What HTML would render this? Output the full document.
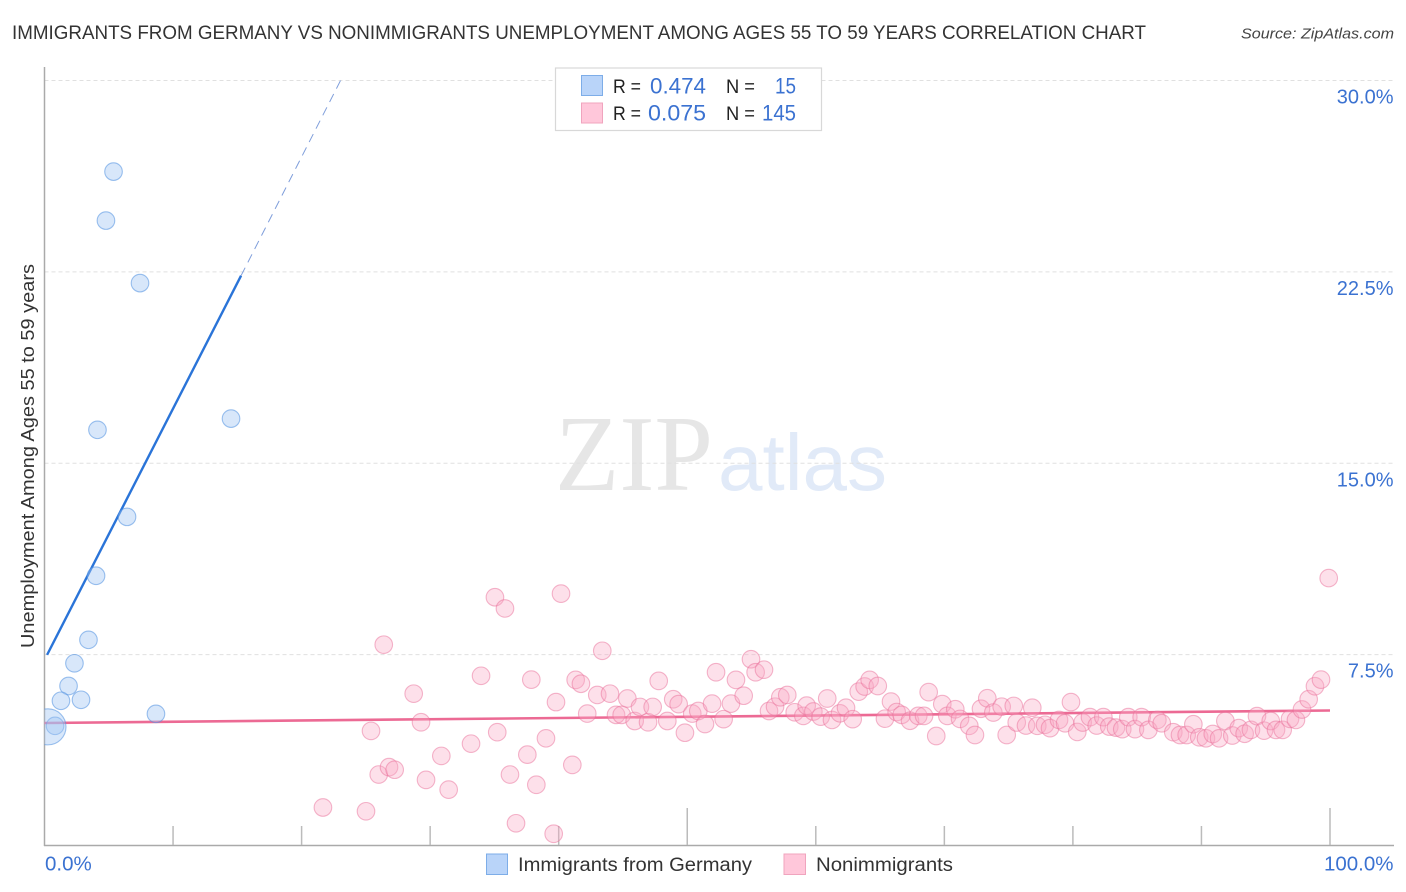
<!DOCTYPE html>
<html lang="en">
<head>
<meta charset="utf-8">
<title>Immigrants from Germany vs Nonimmigrants Unemployment Correlation Chart</title>
<style>
html,body{margin:0;padding:0;background:#fff;}
svg{display:block;font-family:"Liberation Sans",sans-serif;}
</style>
</head>
<body>
<svg id="chart" width="1406" height="892" viewBox="0 0 1406 892" xmlns="http://www.w3.org/2000/svg">
  <defs>
    <clipPath id="plot-clip"><rect x="44.5" y="60" width="1350" height="786"/></clipPath>
  </defs>
  <rect x="0" y="0" width="1406" height="892" fill="#ffffff"/>
  <text x="12" y="39" font-size="19" fill="#333333" textLength="1134" lengthAdjust="spacingAndGlyphs">IMMIGRANTS FROM GERMANY VS NONIMMIGRANTS UNEMPLOYMENT AMONG AGES 55 TO 59 YEARS CORRELATION CHART</text>
  <text x="1241" y="38.5" font-size="15" font-style="italic" fill="#444444" textLength="153" lengthAdjust="spacingAndGlyphs">Source: ZipAtlas.com</text>

  <g>
    <text x="555" y="490" font-family="'Liberation Serif',serif" font-size="108" fill="#e6e6e6" textLength="158" lengthAdjust="spacingAndGlyphs">ZIP</text>
    <text x="718" y="490" font-size="80" fill="#e1eaf8" textLength="169" lengthAdjust="spacingAndGlyphs">atlas</text>
  </g>

  <g id="grid"></g>
  <g id="axes">
    <line x1="44.5" y1="67" x2="44.5" y2="846" stroke="#aaaaaa" stroke-width="1.5"/>
    <line x1="44" y1="845.5" x2="1394" y2="845.5" stroke="#aaaaaa" stroke-width="1.5"/>
  </g>
  <g id="xticks"></g>
  <g id="ylabels"></g>
  <g id="xlabels"></g>

  <text transform="translate(34 648) rotate(-90)" x="0" y="0" font-size="18" fill="#333333" textLength="384" lengthAdjust="spacingAndGlyphs">Unemployment Among Ages 55 to 59 years</text>

  <g id="trends"></g>
  <g id="points-nonimmigrants"></g>
  <g id="points-germany" clip-path="url(#plot-clip)"></g>

  <g>
    <rect x="555.5" y="68" width="266" height="62.5" fill="#ffffff" stroke="#d8d8d8" stroke-width="1.2"/>
    <rect x="581.5" y="75.5" width="21" height="20" fill="#b9d4f9" stroke="#7dade8" stroke-width="1"/>
    <rect x="581.5" y="103" width="21" height="20" fill="#ffc7da" stroke="#f0a4be" stroke-width="1"/>
    <text x="613" y="93" font-size="19" fill="#222222" textLength="28" lengthAdjust="spacingAndGlyphs">R =</text>
    <text x="650" y="93.5" font-size="22" fill="#3b72d1" textLength="56" lengthAdjust="spacingAndGlyphs">0.474</text>
    <text x="726" y="93" font-size="19" fill="#222222" textLength="29" lengthAdjust="spacingAndGlyphs">N =</text>
    <text x="775" y="93.5" font-size="22" fill="#3b72d1" textLength="21" lengthAdjust="spacingAndGlyphs">15</text>
    <text x="613" y="120" font-size="19" fill="#222222" textLength="28" lengthAdjust="spacingAndGlyphs">R =</text>
    <text x="648" y="120.5" font-size="22" fill="#3b72d1" textLength="58" lengthAdjust="spacingAndGlyphs">0.075</text>
    <text x="726" y="120" font-size="19" fill="#222222" textLength="29" lengthAdjust="spacingAndGlyphs">N =</text>
    <text x="762" y="120.5" font-size="22" fill="#3b72d1" textLength="34" lengthAdjust="spacingAndGlyphs">145</text>
  </g>

  <g>
    <rect x="486.5" y="854" width="21" height="20.5" fill="#b9d4f9" stroke="#7dade8" stroke-width="1"/>
    <text x="518" y="871" font-size="19" fill="#333333" textLength="234" lengthAdjust="spacingAndGlyphs">Immigrants from Germany</text>
    <rect x="784" y="854" width="21.5" height="20.5" fill="#ffc7da" stroke="#f0a4be" stroke-width="1"/>
    <text x="816" y="871" font-size="19" fill="#333333" textLength="137" lengthAdjust="spacingAndGlyphs">Nonimmigrants</text>
  </g>
</svg>
<script>
var yTickValues = [7.5, 15, 22.5, 30];
var yTickLabels = ["7.5%", "15.0%", "22.5%", "30.0%"];
var xTickValues = [10, 20, 30, 40, 50, 60, 70, 80, 90, 100];
var xMajorTicks = [50, 100];
var xEndValues = [0, 100];
var xEndLabels = ["0.0%", "100.0%"];

var germanyX = [5.37, 4.78, 7.43, 14.51, 4.12, 6.42, 4.01, 3.42, 2.33, 1.87, 1.28, 2.84, 8.67, 0.82, 0.27];
var germanyY = [26.43, 24.51, 22.06, 16.75, 16.31, 12.90, 10.59, 8.08, 7.16, 6.27, 5.69, 5.73, 5.18, 4.71, 4.67];
var germanyWeight = [1, 1, 1, 1, 1, 1, 1, 1, 1, 1, 1, 1, 1, 1, 4.2];

var nonimmigrantsX = [21.66, 25.01, 25.40, 26.00, 26.39, 26.80, 27.24, 28.72, 29.29, 29.68, 30.87, 31.44, 33.18, 33.96, 35.04, 35.22, 35.82, 36.21, 36.68, 37.56, 37.87, 38.26, 39.01, 39.61, 39.79, 40.18, 41.06, 41.32, 41.73, 42.22, 43.00, 43.39, 43.99, 44.46, 44.90, 45.34, 45.91, 46.32, 46.95, 47.31, 47.78, 48.45, 48.91, 49.33, 49.82, 50.39, 50.86, 51.38, 51.93, 52.24, 52.83, 53.40, 53.79, 54.39, 54.96, 55.32, 55.97, 56.36, 56.83, 57.24, 57.78, 58.36, 59.03, 59.29, 59.81, 60.38, 60.89, 61.26, 61.88, 62.35, 62.87, 63.34, 63.80, 64.19, 64.82, 65.38, 65.85, 66.29, 66.68, 67.33, 67.97, 68.42, 68.78, 69.37, 69.84, 70.23, 70.85, 71.22, 71.94, 72.38, 72.85, 73.34, 73.81, 74.46, 74.85, 75.40, 75.63, 76.35, 76.84, 77.23, 77.83, 78.22, 78.92, 79.39, 79.85, 80.34, 80.76, 81.33, 81.85, 82.37, 82.83, 83.35, 83.84, 84.31, 84.83, 85.35, 85.87, 86.57, 86.91, 87.81, 88.33, 88.85, 89.37, 89.83, 90.35, 90.88, 91.37, 91.86, 92.40, 92.90, 93.36, 93.85, 94.32, 94.87, 95.39, 95.80, 96.32, 96.89, 97.35, 97.82, 98.34, 98.83, 99.30, 99.90];
var nonimmigrantsY = [1.51, 1.36, 4.51, 2.80, 7.89, 3.09, 2.99, 5.97, 4.85, 2.59, 3.53, 2.21, 4.01, 6.67, 9.75, 4.46, 9.31, 2.80, 0.89, 3.58, 6.52, 2.40, 4.22, 0.48, 5.64, 9.89, 3.18, 6.51, 6.36, 5.19, 5.92, 7.65, 5.97, 5.14, 5.14, 5.78, 4.90, 5.45, 4.85, 5.45, 6.47, 4.90, 5.75, 5.56, 4.44, 5.19, 5.29, 4.78, 5.58, 6.81, 4.97, 5.58, 6.51, 5.89, 7.32, 6.81, 6.91, 5.29, 5.46, 5.83, 5.92, 5.24, 5.10, 5.50, 5.27, 5.07, 5.78, 4.94, 5.20, 5.42, 4.97, 6.05, 6.25, 6.51, 6.27, 4.99, 5.66, 5.25, 5.14, 4.91, 5.10, 5.10, 6.03, 4.31, 5.56, 5.10, 5.36, 4.98, 4.71, 4.35, 5.38, 5.79, 5.23, 5.46, 4.35, 5.49, 4.84, 4.72, 5.42, 4.71, 4.75, 4.62, 4.94, 4.81, 5.64, 4.47, 4.84, 5.05, 4.72, 5.05, 4.68, 4.64, 4.58, 5.05, 4.58, 5.05, 4.55, 4.94, 4.81, 4.46, 4.35, 4.35, 4.77, 4.26, 4.22, 4.39, 4.22, 4.90, 4.33, 4.62, 4.40, 4.55, 5.09, 4.52, 4.90, 4.55, 4.55, 4.98, 4.94, 5.35, 5.75, 6.26, 6.52, 10.50];

var germanyTrendX = [0.2, 15.29];
var germanyTrendY = [7.49, 22.35];
var germanyProjectionX = [15.29, 23.07];
var germanyProjectionY = [22.35, 30.04];
var nonimmigrantsTrendX = [0, 100];
var nonimmigrantsTrendY = [4.82, 5.31];

var SVGNS = "http://www.w3.org/2000/svg";
function xScale(v) { return 44.5 + v * (1330 - 44.5) / 100; }
function yScale(v) { return 846 - v * (846 - 80.5) / 30; }
function rScale(w) { return 8.8 * Math.sqrt(w); }
function make(tag, parentId, attrs) {
  var el = document.createElementNS(SVGNS, tag);
  for (var k in attrs) { el.setAttribute(k, attrs[k]); }
  document.getElementById(parentId).appendChild(el);
  return el;
}

yTickValues.forEach(function (v, i) {
  var line = make("line", "grid", {x1: 44.5, x2: 1394, y1: yScale(v), y2: yScale(v), stroke: "#e0e0e0", "stroke-width": 1, "stroke-dasharray": "4 3"});
  
  
  var label = make("text", "ylabels", {x: 1393.5, y: yScale(v) + 23, "text-anchor": "end", "font-size": 20, fill: "#3b72d1"});
  
  
  label.textContent = yTickLabels[i];
});

xTickValues.forEach(function (v) {
  var major = xMajorTicks.indexOf(v) >= 0;
  var tick = make("line", "xticks", {x1: xScale(v), x2: xScale(v), y1: major ? 808 : 826, y2: 845, stroke: "#bbbbbb", "stroke-width": 1.5});
  
  
});

xEndValues.forEach(function (v, i) {
  var label = make("text", "xlabels", {x: v === 0 ? xScale(v) + 0.5 : 1393.5, y: 870.5, "text-anchor": v === 0 ? "start" : "end", "font-size": 20.5, fill: "#3b72d1"});
  
  
  label.textContent = xEndLabels[i];
});

var pinkTrend = make("line", "trends", {x1: xScale(nonimmigrantsTrendX[0]), y1: yScale(nonimmigrantsTrendY[0]), x2: xScale(nonimmigrantsTrendX[1]), y2: yScale(nonimmigrantsTrendY[1]), stroke: "#ec6a94", "stroke-width": 2.6});



var blueTrend = make("line", "trends", {x1: xScale(germanyTrendX[0]), y1: yScale(germanyTrendY[0]), x2: xScale(germanyTrendX[1]), y2: yScale(germanyTrendY[1]), stroke: "#2a74d8", "stroke-width": 2.4});



var blueProjection = make("line", "trends", {x1: xScale(germanyProjectionX[0]), y1: yScale(germanyProjectionY[0]), x2: xScale(germanyProjectionX[1]), y2: yScale(germanyProjectionY[1]), stroke: "#7f9edb", "stroke-width": 1, "stroke-dasharray": "9 6"});



nonimmigrantsX.forEach(function (v, i) {
  var dot = make("circle", "points-nonimmigrants", {cx: xScale(v), cy: yScale(nonimmigrantsY[i]), r: rScale(1), fill: "#f9a8c4", "fill-opacity": 0.36, stroke: "#ea6f9a", "stroke-opacity": 0.5, "stroke-width": 1.1});
  
  
});

germanyX.forEach(function (v, i) {
  var dot = make("circle", "points-germany", {cx: xScale(v), cy: yScale(germanyY[i]), r: rScale(germanyWeight[i]), fill: "#a3c6f3", "fill-opacity": 0.42, stroke: "#4e90e0", "stroke-opacity": 0.55, "stroke-width": 1.1});
  
  
});
</script>
</body>
</html>
